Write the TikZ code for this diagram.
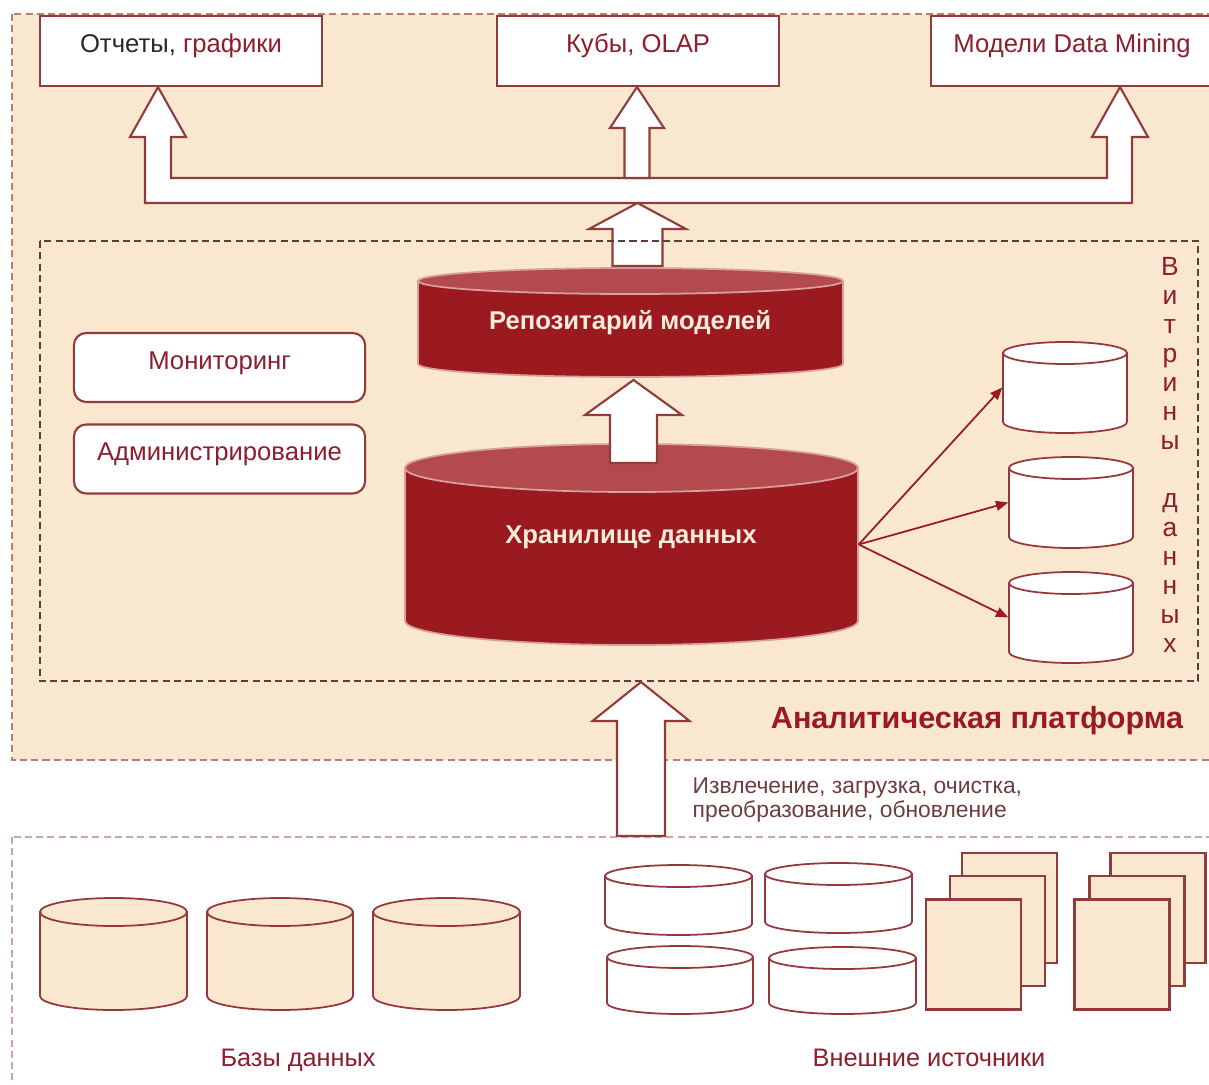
\documentclass[tikz,border=0pt]{standalone}
\usepackage{fontspec}
\setmainfont{Liberation Sans}
\usetikzlibrary{arrows.meta}

\definecolor{beige}{RGB}{249,231,208}
\definecolor{boxline}{RGB}{145,60,60}
\definecolor{redbody}{RGB}{155,26,32}
\definecolor{redtop}{RGB}{178,74,78}
\definecolor{redline}{RGB}{215,160,155}
\definecolor{drumline}{RGB}{150,55,60}
\definecolor{txtred}{RGB}{140,30,45}
\definecolor{txtdark}{RGB}{45,40,40}
\definecolor{txtetl}{RGB}{110,60,60}
\definecolor{cream}{RGB}{250,236,218}
\definecolor{dashout}{RGB}{185,125,115}
\definecolor{dashin}{RGB}{95,60,55}
\definecolor{dashsrc}{RGB}{205,165,165}

\tikzset{
  platform/.style={draw=dashout, fill=beige, line width=0.6pt, dash pattern=on 2pt off 1.2pt},
  martbox/.style={draw=dashin, line width=0.6pt, dash pattern=on 2pt off 1.2pt},
  srcbox/.style={draw=dashsrc, fill=white, line width=0.6pt, dash pattern=on 2pt off 1.2pt},
  topbox/.style={draw=boxline, fill=white, line width=0.6pt, inner sep=0pt,
    text height=0.37cm, text depth=0.33cm, text=txtred, font=\fontsize{7.3}{8.8}\selectfont},
  sidebox/.style={topbox, rounded corners=3.5pt, minimum width=2.91cm, text height=0.36cm},
  pagebox/.style={draw=boxline, fill=beige, line width=0.6pt, inner sep=0pt,
    minimum width=0.95cm, minimum height=1.1cm},
  blockarr/.style={draw=boxline, fill=white, line width=0.6pt, line join=miter},
  thinarr/.style={draw=redbody, line width=0.5pt, -{Triangle[length=3.5pt, width=2.8pt]}},
  cyltxt/.style={text=cream, font=\bfseries\fontsize{7.3}{8.8}\selectfont},
  captxt/.style={text=txtred, font=\fontsize{7.2}{8.8}\selectfont},
  etltxt/.style={text=txtetl, align=left, inner sep=0pt, font=\fontsize{6.5}{7.1}\selectfont},
  titletxt/.style={text=redbody, font=\bfseries\fontsize{8.7}{10}\selectfont},
  vtext/.style={text=txtred, align=center, font=\fontsize{7.5}{8.25}\selectfont}
}

% drum: name, cx, half width, top y, bottom y, ry, body, top, line
\newcommand{\drum}[9]{%
  \filldraw[fill=#7, draw=#9, line width=0.5pt] (#2-#3,#4) -- (#2-#3,#5)
    arc[start angle=180, end angle=0, x radius=#3, y radius=#6] -- (#2+#3,#4) -- cycle;
  \filldraw[fill=#8, draw=#9, line width=0.5pt] (#2,#4) ellipse[x radius=#3, y radius=#6];
  \node[inner sep=0pt, minimum width={2*#3*0.01cm}, minimum height={(#5-#4)*0.01cm}] (#1) at (#2,{(#4+#5)/2}) {};
}
% block arrow up: cx, tip y, head y, bottom y, shaft half width, head half width
\newcommand{\uparr}[6]{%
  \filldraw[blockarr] (#1-#5,#4) -- (#1-#5,#3) -- (#1-#6,#3) -- (#1,#2)
    -- (#1+#6,#3) -- (#1+#5,#3) -- (#1+#5,#4) -- cycle;
}

\begin{document}
\begin{tikzpicture}[x=0.01cm, y=-0.01cm]
\useasboundingbox (0,0) rectangle (1209,1085);
\clip (0,0) rectangle (1209,1085);

% frames
\draw[platform] (12,14) rectangle (1240,760);
\draw[srcbox] (12,837) rectangle (1240,1110);

% outputs
\node[topbox, minimum width=2.82cm] (reports) at (181,51) {{\color{txtdark}Отчеты,} графики};
\node[topbox, minimum width=2.82cm] (cubes) at (638,51) {Кубы, OLAP};
\node[topbox, minimum width=2.82cm] (mining) at (1072,51) {Модели Data Mining};

% distribution bar
\filldraw[blockarr] (145,203) -- (145,137) -- (130,137) -- (158,87) -- (186,137) -- (171,137)
  -- (171,178) -- (1107,178) -- (1107,137) -- (1092,137) -- (1120,87) -- (1148,137)
  -- (1132,137) -- (1132,203) -- cycle;
\uparr{637}{87}{128}{178}{12.5}{27}

% warehouse and models
\drum{repo}{630.5}{212.5}{281}{364}{13}{redbody}{redtop}{redline}
\drum{wh}{631.5}{226.5}{468}{621}{24}{redbody}{redtop}{redline}
\node[cyltxt] (repotxt) at (630,323) {Репозитарий моделей};
\node[cyltxt] (whtxt) at (631,537) {Хранилище данных};
\uparr{637.5}{203}{229}{266}{25}{48.5}
\uparr{633.5}{380}{415}{463}{23.5}{48.5}

\node[sidebox] (monitor) at (219.5,367.5) {Мониторинг};
\node[sidebox] (admin) at (219.5,459) {Администрирование};

% data marts
\drum{mart1}{1065}{62}{353}{422}{11}{white}{white}{drumline}
\drum{mart2}{1071}{62}{468}{537}{11}{white}{white}{drumline}
\drum{mart3}{1071}{62}{583}{652}{11}{white}{white}{drumline}
\draw[thinarr] (wh.east) -- (mart1.west);
\draw[thinarr] (wh.east) -- (mart2.west);
\draw[thinarr] (wh.east) -- (mart3.west);
\node[vtext] (vitr) at (1170,455) {В\\и\\т\\р\\и\\н\\ы\\[0.29cm]д\\а\\н\\н\\ы\\х};
\draw[martbox] (40,241) rectangle (1198,681);

\node[titletxt] (platf) at (977,721) {Аналитическая платформа};

% loading
\uparr{641}{682}{721}{836}{24}{48.5}
\node[etltxt, anchor=west] (etl) at (692,800) {Извлечение, загрузка, очистка,\\преобразование, обновление};

% sources
\drum{db1}{113.5}{73.5}{912}{996}{14}{beige}{beige}{drumline}
\drum{db2}{280}{73}{912}{996}{14}{beige}{beige}{drumline}
\drum{db3}{446.5}{73.5}{912}{996}{14}{beige}{beige}{drumline}
\drum{ext1}{678.5}{73.5}{876}{924}{11}{white}{white}{drumline}
\drum{ext2}{838.5}{73.5}{874}{922}{11}{white}{white}{drumline}
\drum{ext3}{680}{73}{957}{1003}{11}{white}{white}{drumline}
\drum{ext4}{842.5}{73.5}{958}{1003}{11}{white}{white}{drumline}

\node[pagebox] (doca3) at (1009.5,908) {};
\node[pagebox] (doca2) at (997.5,931) {};
\node[pagebox] (doca1) at (973.5,954.5) {};
\node[pagebox] (docb3) at (1158,908) {};
\node[pagebox] (docb2) at (1137,931) {};
\node[pagebox] (docb1) at (1122,954.5) {};

\node[captxt] (dbtxt) at (298,1060) {Базы данных};
\node[captxt] (exttxt) at (929,1058) {Внешние источники};
\end{tikzpicture}
\end{document}
